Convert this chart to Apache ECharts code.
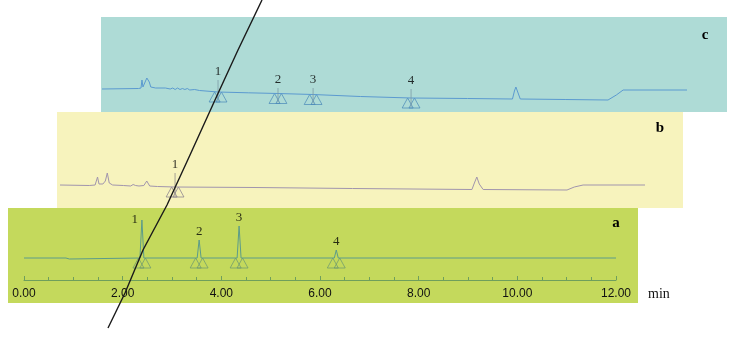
<!DOCTYPE html>
<html>
<head>
<meta charset="utf-8">
<script src="https://cdn.jsdelivr.net/npm/echarts@6/dist/echarts.min.js"></script>
<style>html,body{margin:0;padding:0;background:#fff}#chart{width:743px;height:337px}</style>
</head>
<body>
<div id="chart"></div>
<script>
// ---- data (time in min, signal in arbitrary units) ----
const xTicks = [0, 2, 4, 6, 8, 10, 12];
const peakNames = ['1', '2', '3', '4'];

// chromatogram a (standards)
const traceA = [[0,22],[0.85,22],[0.88,23],[0.92,21],[0.96,22],[2.35,22],[2.39,60],[2.43,22],[3.51,22],[3.55,40],[3.59,22],[4.32,22],[4.36,54],[4.40,22],[6.29,22],[6.33,30],[6.37,22],[12,22]];
const peakTimesA = [2.39, 3.55, 4.36, 6.33];
const peakTopsA = [60, 40, 54, 30];
const peakBaseA = [22, 22, 22, 22];

// chromatogram b
const traceB = [[0,23],[0.6,22.5],[0.72,23],[0.77,31],[0.8,24],[0.88,24],[0.93,27],[0.97,35],[1.01,25],[1.08,23],[1.3,22.5],[1.45,22],[1.5,23.5],[1.55,22.5],[1.62,22],[1.72,22.5],[1.78,27],[1.84,22],[2.0,21.5],[2.36,21],[4,20.5],[6,19.5],[8.45,18.5],[8.5,25],[8.55,31],[8.6,24],[8.68,18.5],[10.4,18],[10.55,21],[10.73,23],[12,23]];
const peakTimesB = [2.36];
const peakTopsB = [35];
const peakBaseB = [21];

// chromatogram c
const traceC = [[0,23],[0.75,23.5],[0.8,24],[0.82,32],[0.84,25],[0.88,26],[0.92,34],[0.94,36],[0.97,30],[1.0,25],[1.1,24],[1.3,24],[1.4,23],[1.45,24],[1.5,22.5],[1.55,24],[1.6,22.5],[1.65,23.5],[1.7,22.5],[1.75,23.5],[1.8,22],[1.9,22.5],[2.0,21.5],[2.38,20],[3.0,19.2],[3.61,18.5],[4.33,17.5],[5.3,15.5],[6.34,14],[7.5,13.5],[8.42,13],[8.46,21],[8.49,25],[8.52,21],[8.58,13],[9.5,12.5],[10.38,12],[10.55,17],[10.69,22],[12,22]];
const peakTimesC = [2.38, 3.61, 4.33, 6.34];
const peakTopsC = [32, 24, 24, 23];
const peakBaseC = [20, 18.5, 17.5, 14];

// ---- build ----
const chart = echarts.init(document.getElementById('chart'), null, {renderer: 'canvas'});
const SERIF = '"Liberation Serif","Times New Roman",serif';
const SANS = '"Liberation Sans",Arial,sans-serif';

function triangles(times, bases) {
  const d = [];
  times.forEach((t, i) => {
    d.push([t - 0.07, bases[i] - 5]);
    d.push([t + 0.07, bases[i] - 5]);
  });
  return d;
}
function markerLines(times, bases, tops) {
  const d = [];
  times.forEach((t, i) => { d.push([t, bases[i] - 9]); d.push([t, tops[i]]); d.push('-'); });
  return d;
}
function labels(times, tops, names) {
  return times.map((t, i) => ({value: [t, tops[i]], name: names[i]}));
}

const hiddenX = (g) => ({gridIndex: g, type: 'value', min: 0, max: 12, show: false});
const hiddenY = (g, max) => ({gridIndex: g, type: 'value', min: 0, max: max, show: false});
const peakLabel = {show: true, formatter: p => p.name, fontFamily: SERIF, fontSize: 13, color: '#000', position: 'top', distance: 2};

const option = {
  animation: false,
  backgroundColor: '#ffffff',
  graphic: [
    {type: 'rect', z: -5, shape: {x: 101, y: 17, width: 626, height: 95}, style: {fill: '#aedbd6'}, silent: true},
    {type: 'rect', z: -4, shape: {x: 57, y: 112, width: 626, height: 96}, style: {fill: '#f7f3bd'}, silent: true},
    {type: 'rect', z: -3, shape: {x: 8, y: 208, width: 630, height: 95}, style: {fill: '#c4d95c'}, silent: true},
    {type: 'text', z: 50, x: 705, y: 35, style: {text: 'c', font: 'bold 15px ' + SERIF, fill: '#000', align: 'center', verticalAlign: 'middle'}},
    {type: 'text', z: 50, x: 660, y: 128, style: {text: 'b', font: 'bold 15px ' + SERIF, fill: '#000', align: 'center', verticalAlign: 'middle'}},
    {type: 'text', z: 50, x: 616, y: 223, style: {text: 'a', font: 'bold 15px ' + SERIF, fill: '#000', align: 'center', verticalAlign: 'middle'}},
    {type: 'text', z: 50, x: 648, y: 294, style: {text: 'min', font: '14px ' + SERIF, fill: '#111', align: 'left', verticalAlign: 'middle'}},
    {type: 'polyline', z: 100, shape: {points: [[262,0],[238,50],[215,100],[190,155],[167,205],[143,250],[125,293],[108,328]]}, style: {stroke: '#1a1a1a', lineWidth: 1.4, fill: 'none'}, silent: true}
  ],
  grid: [
    {left: 24, right: 127, top: 208, bottom: 57},
    {left: 60, right: 98, top: 112, bottom: 129},
    {left: 102, right: 56, top: 17, bottom: 225}
  ],
  xAxis: [
    {gridIndex: 0, type: 'value', min: 0, max: 12, interval: 2,
     axisLine: {show: true, lineStyle: {color: '#6f9f5c', width: 1}},
     axisTick: {show: true, inside: true, length: 4, lineStyle: {color: '#6f9f5c'}},
     minorTick: {show: true, splitNumber: 4, length: 3, lineStyle: {color: '#6f9f5c'}},
     splitLine: {show: false},
     axisLabel: {show: true, margin: 8, fontFamily: SANS, fontSize: 12, color: '#111', formatter: v => v.toFixed(2)}},
    hiddenX(1), hiddenX(2)
  ],
  yAxis: [hiddenY(0, 72), hiddenY(1, 96), hiddenY(2, 95)],
  series: [
    // a
    {type: 'line', xAxisIndex: 0, yAxisIndex: 0, data: traceA, showSymbol: false, lineStyle: {color: '#5c9c8a', width: 1}},
    {type: 'scatter', xAxisIndex: 0, yAxisIndex: 0, data: triangles(peakTimesA, peakBaseA), symbol: 'triangle', symbolSize: [11, 10],
     itemStyle: {color: 'rgba(0,0,0,0)', borderColor: '#6a9670', borderWidth: 0.9}},
    {type: 'scatter', xAxisIndex: 0, yAxisIndex: 0, data: labels(peakTimesA, peakTopsA, peakNames), symbolSize: 0, label: peakLabel},
    // b
    {type: 'line', xAxisIndex: 1, yAxisIndex: 1, data: traceB, showSymbol: false, lineStyle: {color: '#a195ad', width: 1}},
    {type: 'line', xAxisIndex: 1, yAxisIndex: 1, data: markerLines(peakTimesB, peakBaseB, peakTopsB), showSymbol: false, connectNulls: false, lineStyle: {color: '#8e8a88', width: 0.8}},
    {type: 'scatter', xAxisIndex: 1, yAxisIndex: 1, data: triangles(peakTimesB, peakBaseB), symbol: 'triangle', symbolSize: [11, 10],
     itemStyle: {color: 'rgba(0,0,0,0)', borderColor: '#857a8c', borderWidth: 0.9}},
    {type: 'scatter', xAxisIndex: 1, yAxisIndex: 1, data: labels(peakTimesB, peakTopsB, peakNames), symbolSize: 0, label: peakLabel},
    // c
    {type: 'line', xAxisIndex: 2, yAxisIndex: 2, data: traceC, showSymbol: false, lineStyle: {color: '#5b9ad0', width: 1}},
    {type: 'line', xAxisIndex: 2, yAxisIndex: 2, data: markerLines(peakTimesC, peakBaseC, peakTopsC), showSymbol: false, connectNulls: false, lineStyle: {color: '#7d9aa6', width: 0.8}},
    {type: 'scatter', xAxisIndex: 2, yAxisIndex: 2, data: triangles(peakTimesC, peakBaseC), symbol: 'triangle', symbolSize: [11, 10],
     itemStyle: {color: 'rgba(0,0,0,0)', borderColor: '#4a88b8', borderWidth: 0.9}},
    {type: 'scatter', xAxisIndex: 2, yAxisIndex: 2, data: labels(peakTimesC, peakTopsC, peakNames), symbolSize: 0, label: peakLabel}
  ]
};
// peak 1 of chromatogram a is labelled beside its apex
option.series[2].data[0].label = {position: 'left', distance: 4};
chart.setOption(option);
</script>
</body>
</html>
